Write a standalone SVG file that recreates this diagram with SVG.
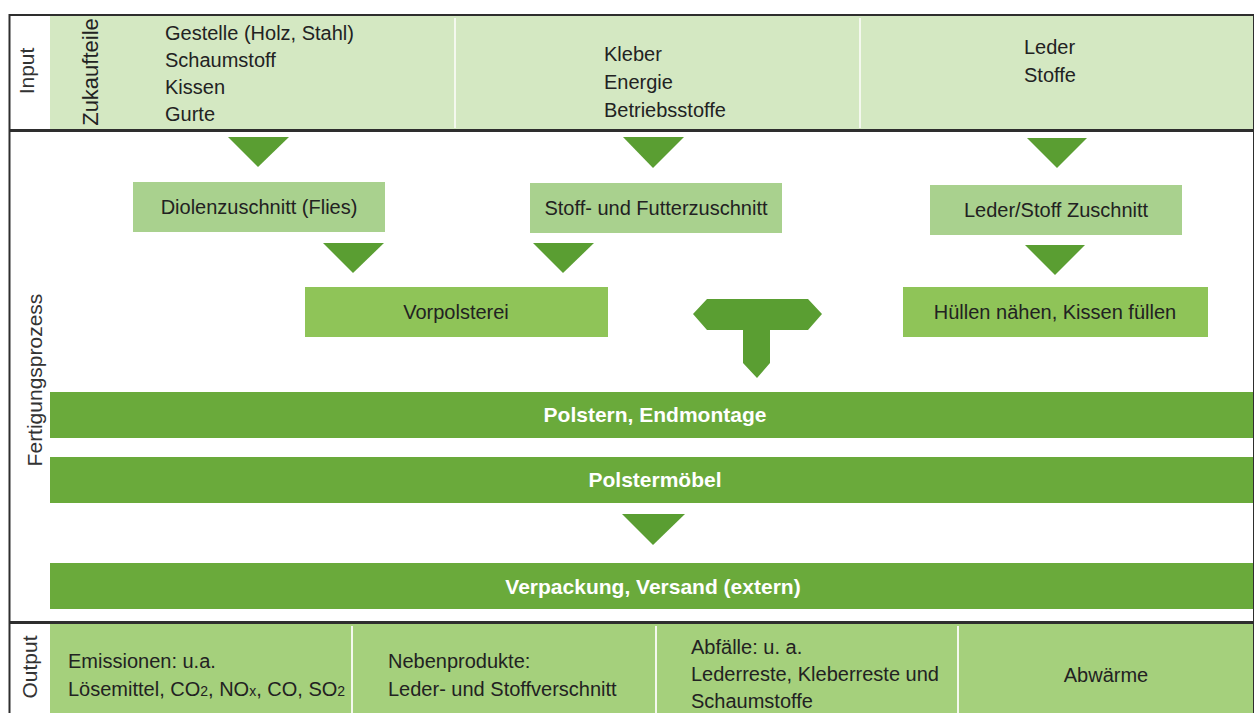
<svg xmlns="http://www.w3.org/2000/svg" width="1257" height="713" viewBox="0 0 1257 713">
<defs>
<style>
text{font-family:"Liberation Sans",Arial,sans-serif;fill:#222;}
.t{font-size:20px;}
.lbl{font-size:21px;fill:#333;}
.zk{font-size:22px;}
.bar{fill:#6aaa3b;}
.bartxt{font-size:21px;font-weight:bold;fill:#fff;text-anchor:middle;}
.box1{fill:#a9d18e;}
.box2{fill:#8fc458;}
.tri{fill:#5a9e32;}
.band-in{fill:#d4e8c2;}
.band-out{fill:#a5d07c;}
.sep{stroke:#f4f8ee;stroke-width:2;}
.frame{stroke:#2e2e2e;fill:none;}
.mid{text-anchor:middle;}
</style>
</defs>
<rect width="1257" height="713" fill="#fff"/>

<g id="input-band">
<rect class="band-in" x="50" y="16" width="1203" height="114"/>
<line class="sep" x1="455" y1="18" x2="455" y2="128"/>
<line class="sep" x1="860" y1="18" x2="860" y2="128"/>
<text class="lbl" transform="translate(34,71) rotate(-90)" text-anchor="middle">Input</text>
<text class="t zk" transform="translate(98,72) rotate(-90)" text-anchor="middle">Zukaufteile</text>
<text class="t" x="165" y="40">Gestelle (Holz, Stahl)</text>
<text class="t" x="165" y="67">Schaumstoff</text>
<text class="t" x="165" y="94">Kissen</text>
<text class="t" x="165" y="121">Gurte</text>
<text class="t" x="604" y="61">Kleber</text>
<text class="t" x="604" y="89">Energie</text>
<text class="t" x="604" y="117">Betriebsstoffe</text>
<text class="t" x="1024" y="54">Leder</text>
<text class="t" x="1024" y="82">Stoffe</text>
</g>

<g id="process-label">
<text class="lbl" transform="translate(42,380) rotate(-90)" text-anchor="middle">Fertigungsprozess</text>
</g>

<g id="diolenzuschnitt">
<rect class="box1" x="133" y="182" width="252" height="50"/>
<text class="t mid" x="259" y="214">Diolenzuschnitt (Flies)</text>
</g>
<g id="stoffzuschnitt">
<rect class="box1" x="530" y="183" width="252" height="50"/>
<text class="t mid" x="656" y="215">Stoff- und Futterzuschnitt</text>
</g>
<g id="lederzuschnitt">
<rect class="box1" x="930" y="185" width="252" height="50"/>
<text class="t mid" x="1056" y="217">Leder/Stoff Zuschnitt</text>
</g>
<g id="vorpolsterei">
<rect class="box2" x="305" y="287" width="303" height="50"/>
<text class="t mid" x="456" y="319">Vorpolsterei</text>
</g>
<g id="huellen">
<rect class="box2" x="903" y="287" width="305" height="50"/>
<text class="t mid" x="1055" y="319">Hüllen nähen, Kissen füllen</text>
</g>
<g id="polstern">
<rect class="bar" x="50" y="392" width="1203" height="46"/>
<text class="bartxt" x="655" y="422">Polstern, Endmontage</text>
</g>
<g id="polstermoebel">
<rect class="bar" x="50" y="457" width="1203" height="46"/>
<text class="bartxt" x="655" y="487">Polstermöbel</text>
</g>
<g id="verpackung">
<rect class="bar" x="50" y="563" width="1203" height="46"/>
<text class="bartxt" x="653" y="594">Verpackung, Versand (extern)</text>
</g>

<g id="connectors">
<polygon class="tri" points="228,137 289,137 258,167"/>
<polygon class="tri" points="323,243 384,243 353,273"/>
<polygon class="tri" points="623,137 684,137 653,168"/>
<polygon class="tri" points="533,243 594,243 563,273"/>
<polygon class="tri" points="1027,138 1087,138 1057,168"/>
<polygon class="tri" points="1025,245 1085,245 1055,275"/>
<polygon class="tri" points="693,314 707,299 808,299 822,314 808,330 770,330 770,363 757,378 743,363 743,330 707,330"/>
<polygon class="tri" points="622,514 685,514 653,545"/>
</g>

<g id="output-band">
<rect class="band-out" x="50" y="624" width="1203" height="89"/>
<line class="sep" x1="352" y1="626" x2="352" y2="713"/>
<line class="sep" x1="656" y1="626" x2="656" y2="713"/>
<line class="sep" x1="958" y1="626" x2="958" y2="713"/>
<text class="lbl" transform="translate(37,667) rotate(-90)" text-anchor="middle">Output</text>
<text class="t" x="68" y="668">Emissionen: u.a.</text>
<text class="t" x="68" y="696">Lösemittel, CO<tspan font-size="14">2</tspan>, NO<tspan font-size="14">x</tspan>, CO, SO<tspan font-size="14">2</tspan></text>
<text class="t" x="388" y="668">Nebenprodukte:</text>
<text class="t" x="388" y="696">Leder- und Stoffverschnitt</text>
<text class="t" x="691" y="654">Abfälle: u. a.</text>
<text class="t" x="691" y="681">Lederreste, Kleberreste und</text>
<text class="t" x="691" y="708">Schaumstoffe</text>
<text class="t mid" x="1106" y="682">Abwärme</text>
</g>

<g id="frame">
<line class="frame" x1="9" y1="15" x2="1254" y2="15" stroke-width="2"/>
<line class="frame" x1="9.5" y1="14" x2="9.5" y2="713" stroke-width="2"/>
<line class="frame" x1="1253.5" y1="15" x2="1253.5" y2="713" stroke-width="1"/>
<line class="frame" x1="9" y1="130.5" x2="1254" y2="130.5" stroke-width="3"/>
<line class="frame" x1="9" y1="622.5" x2="1254" y2="622.5" stroke-width="3"/>
</g>
</svg>
